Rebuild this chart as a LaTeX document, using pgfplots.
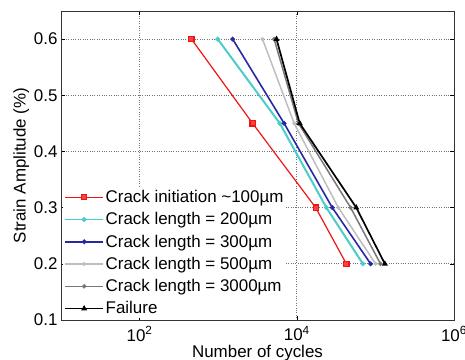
\documentclass[border=0pt]{standalone}
\usepackage{fontspec}
\setmainfont{Liberation Sans}
\usepackage{pgfplots}
\pgfplotsset{compat=1.18}
\definecolor{cred}{RGB}{240,20,20}
\definecolor{ccyan}{RGB}{75,205,200}
\definecolor{cblue}{RGB}{40,40,165}
\definecolor{clgray}{RGB}{190,190,190}
\definecolor{cdgray}{RGB}{120,120,120}
\begin{document}
\begin{tikzpicture}
\begin{axis}[
  at={(0,0)}, anchor=south west,
  scale only axis, width=393bp, height=309bp,
  xmode=log, xmin=10, xmax=1e6, ymin=0.1, ymax=0.65,
  xtick={100,10000,1000000},
  xticklabels={10\textsuperscript{2},10\textsuperscript{4},10\textsuperscript{6}},
  ytick={0.1,0.2,0.3,0.4,0.5,0.6},
  yticklabels={0.1,0.2,0.3,0.4,0.5,0.6},
  xminorticks=false,
  tick align=inside,
  major tick length=4bp,
  tick style={black, line width=0.6pt},
  axis line style={line width=0.8pt, black!80},
  grid=major,
  grid style={dotted, black!55, line width=0.8pt},
  font=\fontsize{17}{20}\selectfont,
  ticklabel style={font=\fontsize{17}{20}\selectfont},
  xticklabel style={yshift=-3bp},
  xlabel={Number of cycles},
  ylabel={Strain Amplitude (\%)},
  xlabel style={yshift=3bp},
  ylabel style={yshift=-2bp},
  legend cell align=left,
  legend style={at={(0.005,0.006)}, anchor=south west, draw=none, fill=white,
    font=\fontsize{17}{19}\selectfont, row sep=5.5bp, inner sep=1bp,
    nodes={inner sep=1.5bp}},
  legend image code/.code={\draw[mark repeat=2,mark phase=2] plot coordinates {(0bp,0bp) (19bp,0bp) (38bp,0bp)};},
]
\addplot[cred, line width=1.2pt, mark=square*, mark size=2.6pt, mark options={fill=cred!80}] coordinates {(457,0.6) (2740,0.45) (17400,0.3) (42700,0.2)};
\addlegendentry{Crack initiation \textasciitilde 100µm}
\addplot[ccyan, line width=2pt, mark=*, mark size=1.3pt] coordinates {(986,0.6) (6080,0.45) (23800,0.3) (69300,0.2)};
\addlegendentry{Crack length = 200µm}
\addplot[cblue, line width=1.6pt, mark=*, mark size=1.5pt] coordinates {(1528,0.6) (6900,0.45) (28300,0.3) (86900,0.2)};
\addlegendentry{Crack length = 300µm}
\addplot[clgray, line width=1.5pt, mark=*, mark size=1.2pt] coordinates {(3660,0.6) (9250,0.45) (33800,0.3) (100500,0.2)};
\addlegendentry{Crack length = 500µm}
\addplot[cdgray, line width=1.5pt, mark=*, mark size=1.4pt] coordinates {(5150,0.6) (10500,0.45) (48400,0.3) (116000,0.2)};
\addlegendentry{Crack length = 3000µm}
\addplot[black, line width=1.7pt, mark=triangle*, mark size=1.8pt] coordinates {(5520,0.6) (10900,0.45) (57100,0.3) (132000,0.2)};
\addlegendentry{Failure}
\end{axis}
\pgfresetboundingbox
\path[use as bounding box] (-61bp,-40bp) rectangle (404bp,320bp);
\end{tikzpicture}
\end{document}
